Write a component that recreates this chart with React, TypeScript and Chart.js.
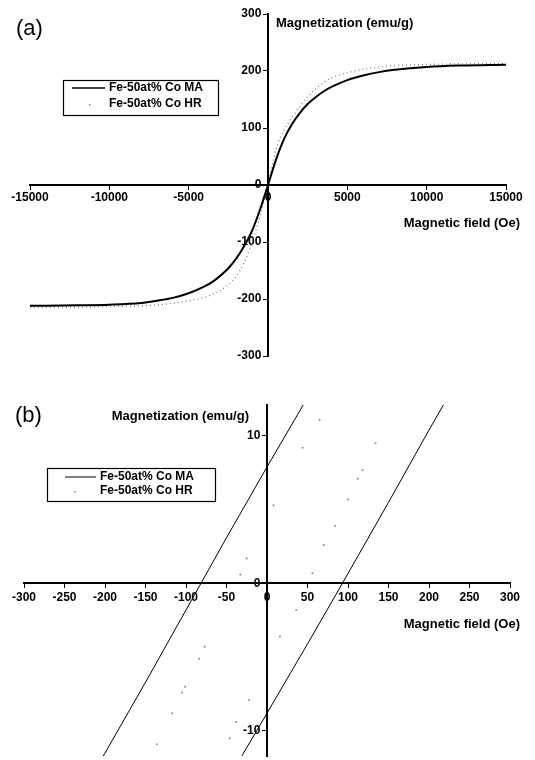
import React, { useEffect, useRef } from 'react';
import { Chart, registerables } from 'chart.js';

Chart.register(...registerables);

const FAMILY = "'Liberation Sans', Arial, Helvetica, sans-serif";

// ---------- data ----------
const seriesNames = ['Fe-50at% Co MA', 'Fe-50at% Co HR'];

// Panel (a): field (Oe) vs magnetization (emu/g)
const fieldA = [-15000, -12000, -10000, -8000, -7000, -6000, -5000, -4000, -3500, -3000, -2500, -2000, -1500, -1000, -500, 0, 500, 1000, 1500, 2000, 2500, 3000, 3500, 4000, 5000, 6000, 7000, 8000, 10000, 12000, 15000];
const maA = [-212, -211, -210, -207, -203, -198, -190, -178, -170, -159, -146, -129, -107, -80, -43, 0, 44, 80, 106, 126, 142, 154, 164, 172, 184, 192, 198, 202, 207, 209.5, 211];
const hrA = [-214, -214, -213, -212, -210.5, -207.5, -203, -197, -192, -185, -175, -160, -136, -100, -55, 0, 62, 96, 118, 138, 155, 169, 180, 188, 197, 203, 207, 209.5, 211.5, 212.5, 213];
const xTicksA = [-15000, -10000, -5000, 0, 5000, 10000, 15000];
const yTicksA = [-300, -200, -100, 0, 100, 200, 300];

// Panel (b): low-field detail
const maDownField = [-230, -200, -150, -100, -50, 0, 50, 70];
const maDownM = [-14.3, -11.5, -6.7, -1.8, 3.1, 7.9, 12.6, 14.5];
const maUpField = [-60, -30, 0, 50, 93, 150, 200, 250];
const maUpM = [-14.3, -11.6, -8.8, -4.1, 0, 5.5, 10.4, 15.2];
const hrField = [-136, -117, -105, -101, -84, -77, -33, -25, 8, 44, 65, -46, -38, -22, 16, 36, 56, 70, 84, 100, 112, 118, 134];
const hrM = [-10.9, -8.8, -7.4, -7.0, -5.1, -4.3, 0.6, 1.7, 5.3, 9.2, 11.1, -10.5, -9.4, -7.9, -3.6, -1.8, 0.7, 2.6, 3.9, 5.7, 7.1, 7.7, 9.5];
const xTicksB = [-300, -250, -200, -150, -100, -50, 0, 50, 100, 150, 200, 250, 300];
const yTicksB = [-10, 0, 10];

const xTitle = 'Magnetic field (Oe)';
const yTitle = 'Magnetization (emu/g)';

// ---------- helpers ----------
const pts = (xs: number[], ys: number[]) => xs.map((x, i) => ({ x, y: ys[i] }));

const zeroFit = (s: any, horizontal: boolean) => {
  if (horizontal) s.height = 0; else s.width = 0;
  s.paddingLeft = 0; s.paddingRight = 0; s.paddingTop = 0; s.paddingBottom = 0;
};

const axisX = (min: number, max: number, ticks: number[], size: number, pad: number) => ({
  type: 'linear',
  position: { y: 0 },
  min, max,
  afterBuildTicks: (s: any) => { s.ticks = ticks.map((v) => ({ value: v })); },
  afterFit: (s: any) => zeroFit(s, true),
  border: { display: true, color: '#000', width: 2 },
  grid: { display: true, drawOnChartArea: false, drawTicks: true, tickLength: 4, color: '#000', lineWidth: 1 },
  ticks: { autoSkip: false, maxRotation: 0, minRotation: 0, padding: pad, color: '#000', font: { family: FAMILY, size, weight: 'bold' }, callback: (v: any) => String(v) },
});

// y labels sit left of the crossing axis; trailing spaces give the gap to the axis line
const axisY = (min: number, max: number, ticks: number[], size: number) => ({
  type: 'linear',
  position: { x: 0 },
  min, max,
  afterBuildTicks: (s: any) => { s.ticks = ticks.map((v) => ({ value: v })); },
  afterFit: (s: any) => zeroFit(s, false),
  border: { display: true, color: '#000', width: 2 },
  grid: { display: true, drawOnChartArea: false, drawTicks: true, tickLength: 4, color: '#000', lineWidth: 1 },
  ticks: { autoSkip: false, padding: 2, color: '#000', font: { family: FAMILY, size, weight: 'bold' }, callback: (v: any) => String(v) + '  ' },
});

const annotPlugin = {
  id: 'annot',
  afterDraw(chart: any, _args: any, o: any) {
    const { ctx, scales } = chart;
    const ox = scales.x.getPixelForValue(0);
    const oy = scales.y.getPixelForValue(0);
    ctx.save();
    ctx.fillStyle = '#000';
    ctx.textBaseline = 'middle';
    // panel tag
    ctx.font = `22px ${FAMILY}`;
    ctx.textAlign = 'left';
    ctx.fillText(o.tag, o.tagX, o.tagY);
    // y title
    ctx.font = `bold ${o.titleSize}px ${FAMILY}`;
    ctx.textAlign = o.yTitleAlign;
    ctx.fillText(yTitle, ox + o.yTitleDx, o.yTitleY);
    // x title
    ctx.textAlign = 'right';
    ctx.fillText(xTitle, o.xTitleRight, oy + o.xTitleDy);
    // legend
    const L = o.legend;
    ctx.strokeStyle = '#000';
    ctx.lineWidth = 1.2;
    ctx.strokeRect(L.x + 0.5, L.y + 0.5, L.w, L.h);
    ctx.beginPath();
    ctx.lineWidth = L.lineWidth;
    ctx.moveTo(L.lineX1, L.row1);
    ctx.lineTo(L.lineX2, L.row1);
    ctx.stroke();
    ctx.fillStyle = '#888';
    ctx.fillRect(L.dotX, L.row2, 1.5, 1.5);
    ctx.fillStyle = '#000';
    ctx.font = `bold ${L.size}px ${FAMILY}`;
    ctx.textAlign = 'left';
    ctx.fillText(seriesNames[0], L.textX, L.row1);
    ctx.fillText(seriesNames[1], L.textX, L.row2);
    ctx.restore();
  },
};

function makeA(canvas: HTMLCanvasElement) {
  return new Chart(canvas, {
    type: 'scatter',
    data: {
      datasets: [
        { label: seriesNames[0], data: pts(fieldA, maA), showLine: true, borderColor: '#000', borderWidth: 2, pointRadius: 0, cubicInterpolationMode: 'monotone' },
        { label: seriesNames[1], data: pts(fieldA, hrA), showLine: true, borderColor: '#808080', borderWidth: 1.3, borderDash: [1, 3], pointRadius: 0, cubicInterpolationMode: 'monotone' },
      ],
    },
    options: {
      animation: false,
      responsive: false,
      events: [],
      layout: { padding: { left: 30, right: 29, top: 14, bottom: 24 } },
      plugins: {
        legend: { display: false },
        tooltip: { enabled: false },
        annot: {
          tag: '(a)', tagX: 16, tagY: 29,
          titleSize: 13,
          yTitleAlign: 'left', yTitleDx: 8, yTitleY: 23,
          xTitleRight: 520, xTitleDy: 38,
          legend: { x: 63, y: 80, w: 155, h: 35, lineX1: 72, lineX2: 105, row1: 88, row2: 104, dotX: 89, textX: 109, size: 12, lineWidth: 1.5 },
        },
      },
      scales: {
        x: axisX(-15000, 15000, xTicksA, 12, 1),
        y: axisY(-300, 300, yTicksA, 12),
      },
    } as any,
    plugins: [annotPlugin],
  });
}

function makeB(canvas: HTMLCanvasElement) {
  return new Chart(canvas, {
    type: 'scatter',
    data: {
      datasets: [
        { label: seriesNames[0], data: pts(maDownField, maDownM), showLine: true, borderColor: '#000', borderWidth: 1, pointRadius: 0 },
        { label: seriesNames[0], data: pts(maUpField, maUpM), showLine: true, borderColor: '#000', borderWidth: 1, pointRadius: 0 },
        { label: seriesNames[1], data: pts(hrField, hrM), showLine: false, pointRadius: 1, pointBorderWidth: 0, backgroundColor: '#8a8a8a', borderColor: '#8a8a8a' },
      ],
    },
    options: {
      animation: false,
      responsive: false,
      events: [],
      layout: { padding: { left: 24, right: 25, top: 25, bottom: 0 } },
      plugins: {
        legend: { display: false },
        tooltip: { enabled: false },
        annot: {
          tag: '(b)', tagX: 15, tagY: 36,
          titleSize: 13,
          yTitleAlign: 'right', yTitleDx: -18, yTitleY: 36,
          xTitleRight: 520, xTitleDy: 41,
          legend: { x: 47, y: 88, w: 168, h: 33, lineX1: 65, lineX2: 96, row1: 97, row2: 111, dotX: 74, textX: 100, size: 12, lineWidth: 1 },
        },
      },
      scales: {
        x: axisX(-300, 300, xTicksB, 12, 3),
        y: axisY(-11.7, 12.1, yTicksB, 12),
      },
    } as any,
    plugins: [annotPlugin],
  });
}

export default function App() {
  const refA = useRef<HTMLCanvasElement>(null);
  const refB = useRef<HTMLCanvasElement>(null);
  useEffect(() => {
    const a = makeA(refA.current!);
    const b = makeB(refB.current!);
    return () => { a.destroy(); b.destroy(); };
  }, []);
  return (
    <div style={{ position: 'absolute', left: 0, top: 0, width: 535, height: 760, background: '#fff' }}>
      <canvas ref={refA} width={535} height={380} style={{ position: 'absolute', left: 0, top: 0, width: 535, height: 380 }} />
      <canvas ref={refB} width={535} height={380} style={{ position: 'absolute', left: 0, top: 380, width: 535, height: 380 }} />
    </div>
  );
}
